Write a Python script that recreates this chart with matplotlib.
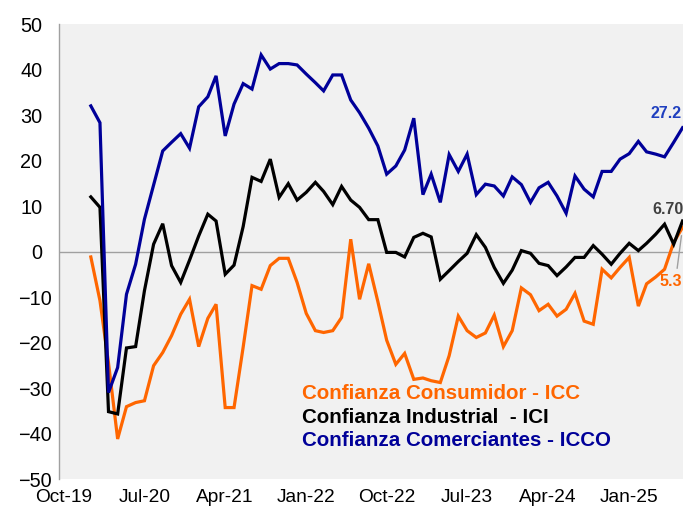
import matplotlib
matplotlib.use("Agg")
import matplotlib.pyplot as plt
import matplotlib.dates as mdates
import matplotlib.transforms as mtransforms
import pandas as pd

# Monthly series, Jan-2020 .. Jul-2025
start_month = "2020-01-01"
icc = [-1.2, -10.8, -24.5, -41.2, -34.1, -33.2, -32.8, -25.1, -22.2, -18.5,
       -13.8, -10.5, -20.9, -14.7, -11.6, -34.3, -34.3, -21.0, -7.5, -8.3,
       -3.1, -1.5, -1.5, -6.8, -13.6, -17.4, -17.8, -17.4, -14.5, 2.7,
       -10.5, -2.7, -11.0, -19.5, -24.8, -22.4, -28.1, -27.8, -28.4, -28.8,
       -22.9, -14.2, -17.4, -18.9, -17.9, -14.0, -20.9, -17.4, -8.0, -9.5,
       -13.0, -11.6, -14.2, -12.7, -9.2, -15.3, -16.0, -3.9, -5.8, -3.5,
       -1.3, -12.0, -7.1, -5.6, -3.9, 2.0, 5.3]
ici = [12.0, 9.7, -35.2, -35.7, -21.2, -20.9, -8.6, 1.6, 6.1, -3.1,
       -6.8, -1.9, 3.4, 8.2, 6.7, -5.0, -3.0, 5.5, 16.3, 15.4,
       20.3, 11.9, 14.9, 11.3, 13.0, 15.2, 13.2, 10.3, 14.3, 11.3,
       9.7, 7.0, 7.0, -0.2, -0.2, -1.2, 3.1, 4.0, 3.2, -6.1,
       -4.2, -2.2, -0.4, 3.7, 0.9, -3.5, -7.0, -4.1, 0.2, -0.4,
       -2.6, -3.1, -5.3, -3.4, -1.3, -1.3, 1.3, -0.6, -2.8, -0.4,
       1.8, 0.2, 1.8, 3.8, 6.0, 1.6, 6.7]
icco = [32.0, 28.3, -31.0, -25.5, -9.4, -2.8, 7.1, 14.6, 22.1, 24.0,
        25.9, 22.7, 31.8, 34.0, 38.6, 25.4, 32.4, 36.9, 35.7, 43.2,
        40.1, 41.3, 41.3, 41.0, 39.0, 37.1, 35.3, 38.8, 38.8, 33.3,
        30.5, 27.1, 23.2, 17.0, 18.8, 22.3, 29.3, 12.5, 17.0, 10.8,
        21.3, 17.6, 21.4, 12.5, 14.8, 14.4, 12.2, 16.4, 14.7, 10.8,
        14.0, 15.2, 12.2, 8.4, 16.6, 13.7, 12.0, 17.6, 17.6, 20.3,
        21.5, 24.2, 21.9, 21.4, 20.8, 24.0, 27.2]
series_names = ["Confianza Consumidor - ICC",
                "Confianza Industrial  - ICI",
                "Confianza Comerciantes - ICCO"]
last_labels = ["5.3", "6.70", "27.2"]
tick_labels_start = "2019-10-01"
tick_labels_end = "2025-01-01"
y_ticks = list(range(-50, 51, 10))

dates = pd.date_range(start_month, periods=len(icc), freq="MS")

W, H = 683, 511
fig = plt.figure(figsize=(W / 100, H / 100), dpi=100)
fig.patch.set_facecolor("white")

left_px, top_px, bottom_px = 59, 24, 479
xmin = pd.Timestamp("2019-09-15")
xmax = pd.Timestamp("2025-09-01")
px_per_day = 8.97 / 30.44
width_px = (xmax - xmin).days * px_per_day
ax = fig.add_axes([left_px / W, (H - bottom_px) / H, width_px / W,
                   (bottom_px - top_px) / H])
ax.set_facecolor("#F1F1F1")

orange = "#FF6600"
black = "#000000"
blue = "#000099"

ax.axhline(0, color="#A0A0A0", lw=1.0, zorder=1)
ax.plot(dates, icc, color=orange, lw=2.3, label=series_names[0], zorder=3,
        solid_joinstyle="miter")
ax.plot(dates, ici, color=black, lw=2.3, label=series_names[1], zorder=4,
        solid_joinstyle="miter")
ax.plot(dates, icco, color=blue, lw=2.3, label=series_names[2], zorder=5,
        solid_joinstyle="miter")

ax.set_xlim(xmin, xmax)
ax.set_ylim(-50, 50)
ax.set_yticks(y_ticks)
xt = pd.date_range(tick_labels_start, tick_labels_end, freq="9MS")
ax.set_xticks(xt)
ax.xaxis.set_major_formatter(mdates.DateFormatter("%b-%y"))

for s in ["top", "right", "bottom"]:
    ax.spines[s].set_visible(False)
ax.spines["left"].set_color("#A0A0A0")
ax.spines["left"].set_linewidth(1.0)
ax.tick_params(axis="both", length=0, colors="black")
ax.tick_params(axis="y", pad=5.5, labelsize=14.3)
ax.tick_params(axis="x", pad=7, labelsize=13.8)
for lab in ax.get_xticklabels() + ax.get_yticklabels():
    lab.set_fontfamily("Liberation Sans")

# positive y labels sit further left (Excel-style number format padding)
shift = mtransforms.ScaledTranslation(-0.09, 0, fig.dpi_scale_trans)
for tick, val in zip(ax.yaxis.get_major_ticks(), y_ticks):
    if val >= 0:
        tick.label1.set_transform(tick.label1.get_transform() + shift)

# end labels
lab_font = dict(fontsize=11.5, fontweight="bold", family="Liberation Sans")
ax.annotate(last_labels[2], xy=(dates[-1], icco[-1]), xytext=(-32, 14),
            textcoords="offset pixels", ha="left", va="center",
            color="#1F3FBF", annotation_clip=False, **lab_font)
ax.annotate(last_labels[1], xy=(dates[-1], ici[-1]), xytext=(-30, 12),
            textcoords="offset pixels", ha="left", va="center",
            color="#404040", annotation_clip=False, **lab_font)
ax.annotate(last_labels[0], xy=(dates[-1], icc[-1]), xytext=(-23, -54),
            textcoords="offset pixels", ha="left", va="center",
            color=orange, annotation_clip=False,
            arrowprops=dict(arrowstyle="-", color="#A0A0A0", lw=1.0,
                            shrinkA=2, shrinkB=6,
                            relpos=(0.75, 1.0)),
            **lab_font)

leg = ax.legend(loc="upper left", bbox_to_anchor=(302 / W, (H - 384) / H),
                bbox_transform=fig.transFigure, frameon=False,
                handlelength=0, handletextpad=0, borderpad=0,
                borderaxespad=0, labelspacing=0.22,
                prop=dict(family="Liberation Sans", weight="bold", size=14.8))
for txt, line in zip(leg.get_texts(), ax.get_lines()[1:]):
    txt.set_color(line.get_color())
for h in leg.legend_handles:
    h.set_visible(False)

fig.savefig("out.png", dpi=100)
